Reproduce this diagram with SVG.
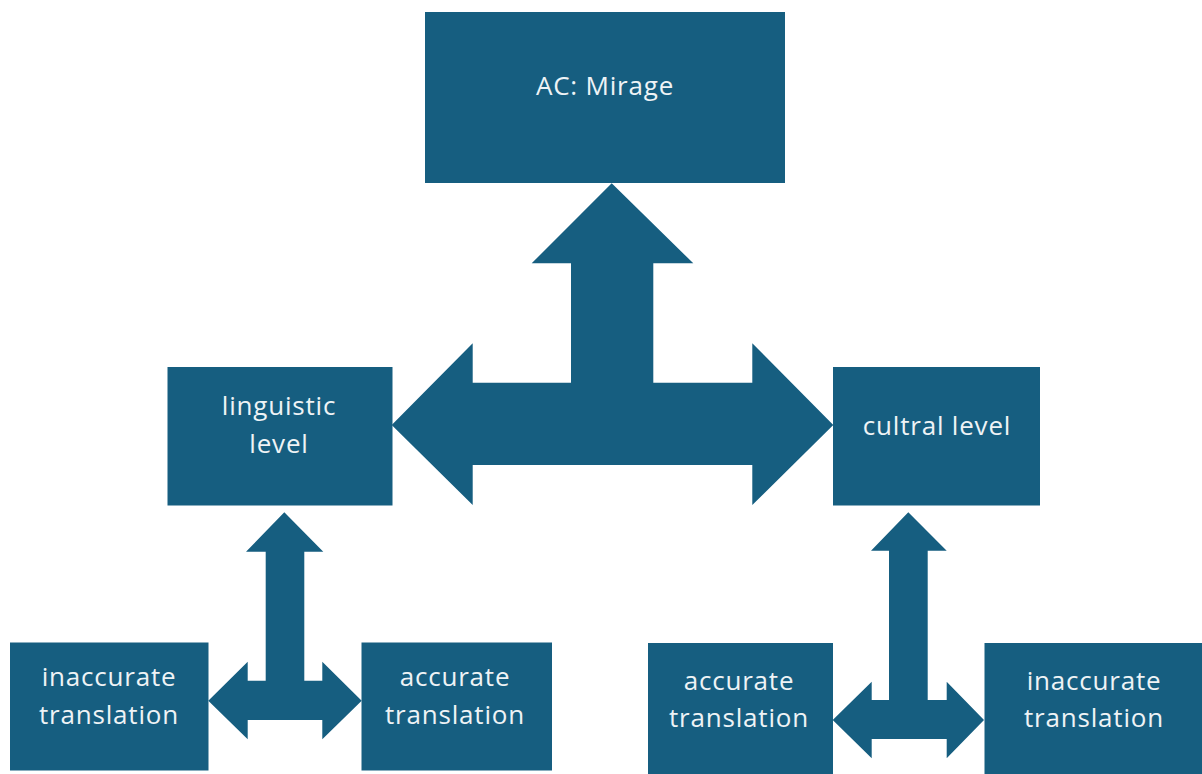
<svg xmlns="http://www.w3.org/2000/svg" width="1202" height="774" viewBox="0 0 1202 774">
<style>
.box{fill:#165e80;}
.arr{fill:#165e80;}
text{font-family:"Open Sans","Noto Sans",sans-serif;font-size:26px;letter-spacing:0.8px;fill:#eef3f6;text-anchor:middle;}
</style>
<rect width="1202" height="774" fill="#ffffff"/>
<g id="connectors">
<polygon class="arr" points="611.7,183.3 693.3,263.3 653.3,263.3 653.3,382.7 752.3,382.7 752.3,343.3 833.3,425 752.3,505 752.3,465 472.7,465 472.7,505 391.7,425 472.7,343.3 472.7,382.7 571,382.7 571,263.3 531.7,263.3"/>
<polygon class="arr" points="284.3,512.3 323.3,551.7 304.3,551.7 304.3,680.7 322.3,680.7 322.3,661.7 361.7,700.7 322.3,739.3 322.3,720 247.7,720 247.7,739.3 208.3,700.7 247.7,661.7 247.7,680.7 265.7,680.7 265.7,551.7 246,551.7"/>
<polygon class="arr" points="908.3,512.3 946.7,550.7 927.7,550.7 927.7,700 946.7,700 946.7,681.7 984,720 946.7,758.3 946.7,739 871.7,739 871.7,758.3 832.7,720 871.7,681.7 871.7,700 889,700 889,550.7 871,550.7"/>
</g>
<g id="node-ac-mirage">
<rect class="box" x="425" y="12" width="360" height="171"/>
<text x="605" y="95">AC: Mirage</text>
</g>
<g id="node-linguistic">
<rect class="box" x="167.5" y="367" width="225" height="138.5"/>
<text x="279" y="415">linguistic</text>
<text x="279" y="453">level</text>
</g>
<g id="node-cultral">
<rect class="box" x="833" y="367" width="207" height="138.5"/>
<text x="937" y="435">cultral level</text>
</g>
<g id="node-inaccurate-left">
<rect class="box" x="10" y="642.5" width="198.5" height="128"/>
<text x="109" y="686">inaccurate</text>
<text x="109" y="724">translation</text>
</g>
<g id="node-accurate-left">
<rect class="box" x="361.5" y="642.5" width="190.5" height="128"/>
<text x="455" y="686">accurate</text>
<text x="455" y="724">translation</text>
</g>
<g id="node-accurate-right">
<rect class="box" x="648" y="643" width="185" height="131"/>
<text x="739" y="690">accurate</text>
<text x="739" y="727">translation</text>
</g>
<g id="node-inaccurate-right">
<rect class="box" x="984.5" y="643" width="217.5" height="131"/>
<text x="1094" y="690">inaccurate</text>
<text x="1094" y="727">translation</text>
</g>
</svg>
